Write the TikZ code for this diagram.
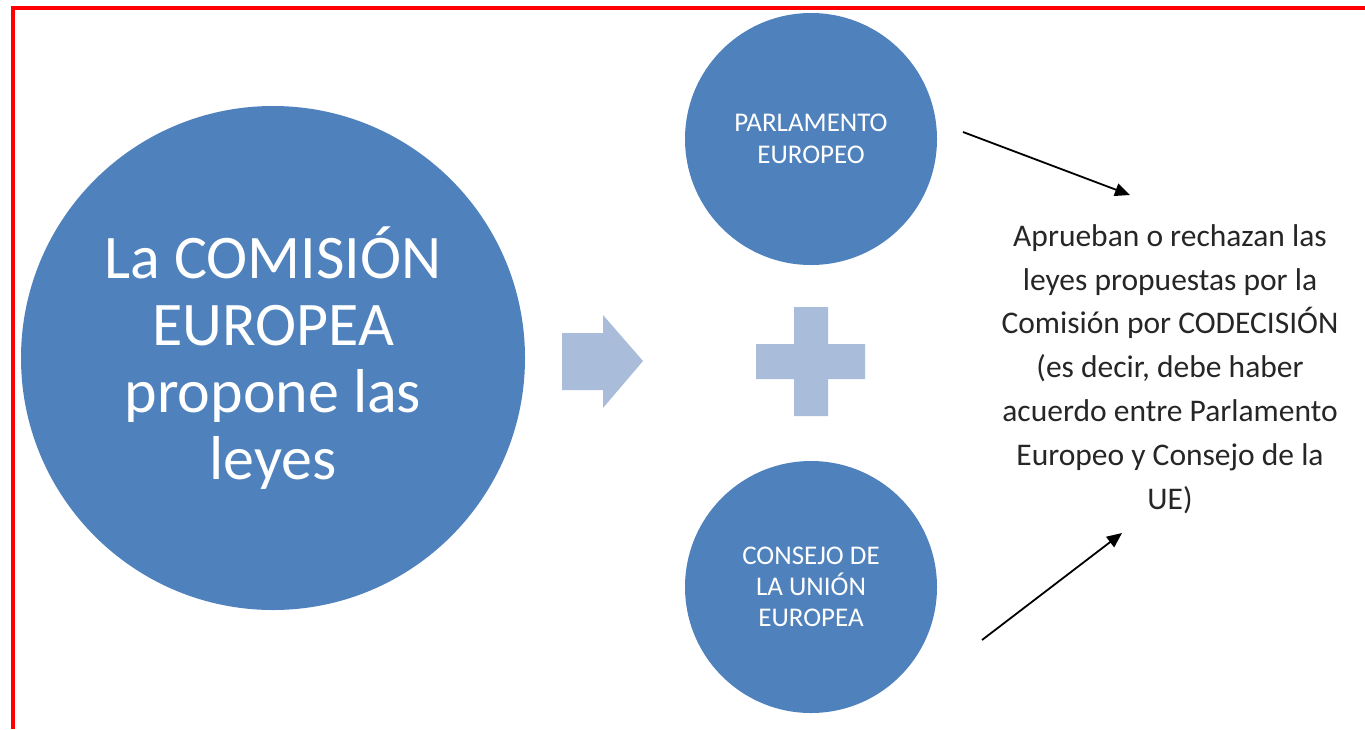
\documentclass[tikz,border=0pt]{standalone}
\usepackage{fontspec}
\setmainfont{Carlito}
\usetikzlibrary{arrows.meta}
\definecolor{circblue}{HTML}{4F81BD}
\definecolor{lightblue}{HTML}{A9BCDA}
\definecolor{frame}{HTML}{FF0000}
\tikzset{
  bigcirc/.style={circle,fill=circblue,minimum size=504pt,inner sep=0pt,text=white,align=center},
  smallcirc/.style={circle,fill=circblue,minimum size=252pt,inner sep=0pt,text=white,align=center},
  connector/.style={line width=1.8pt,-{Triangle[length=15pt,width=13pt]}}
}
\begin{document}
\begin{tikzpicture}[x=1pt,y=-1pt]
\useasboundingbox (0,0) rectangle (1365,729);
% frame (only top and left edges show)
\draw [frame,line width=4pt] (13,729) -- (13,8) -- (1365,8);
% circles
\node (comision) [bigcirc,font=\fontsize{62}{67}\selectfont] at (273,358) {La COMISIÓN\\EUROPEA\\propone las\\leyes};
\node (parlamento) [smallcirc,font=\fontsize{27}{32}\selectfont] at (811,139) {PARLAMENTO\\EUROPEO};
\node (consejo) [smallcirc,font=\fontsize{27}{31}\selectfont] at (811,587) {CONSEJO DE\\LA UNIÓN\\EUROPEA};
% arrow and plus
\fill [lightblue] (562,333) -- (603,333) -- (603,315) -- (643,361) -- (603,408) -- (603,390) -- (562,390) -- cycle;
\fill [lightblue] (794,307) -- (828,307) -- (828,344) -- (865,344) -- (865,379) -- (828,379) -- (828,416) -- (794,416) -- (794,379) -- (756,379) -- (756,344) -- (794,344) -- cycle;
% result text
\node (codecision) [align=center,text=black!85,font=\fontsize{31.5}{43.8}\selectfont] at (1170,369) {Aprueban o rechazan las\\leyes propuestas por la\\Comisión por CODECISIÓN\\(es decir, debe haber\\acuerdo entre Parlamento\\Europeo y Consejo de la\\UE)};
\coordinate (topstart) at (963,132);
\coordinate (topend) at (1130,195);
\coordinate (botstart) at (982,640);
\coordinate (botend) at (1122,533);
\draw [connector] (topstart) -- (topend);
\draw [connector] (botstart) -- (botend);
\end{tikzpicture}
\end{document}
